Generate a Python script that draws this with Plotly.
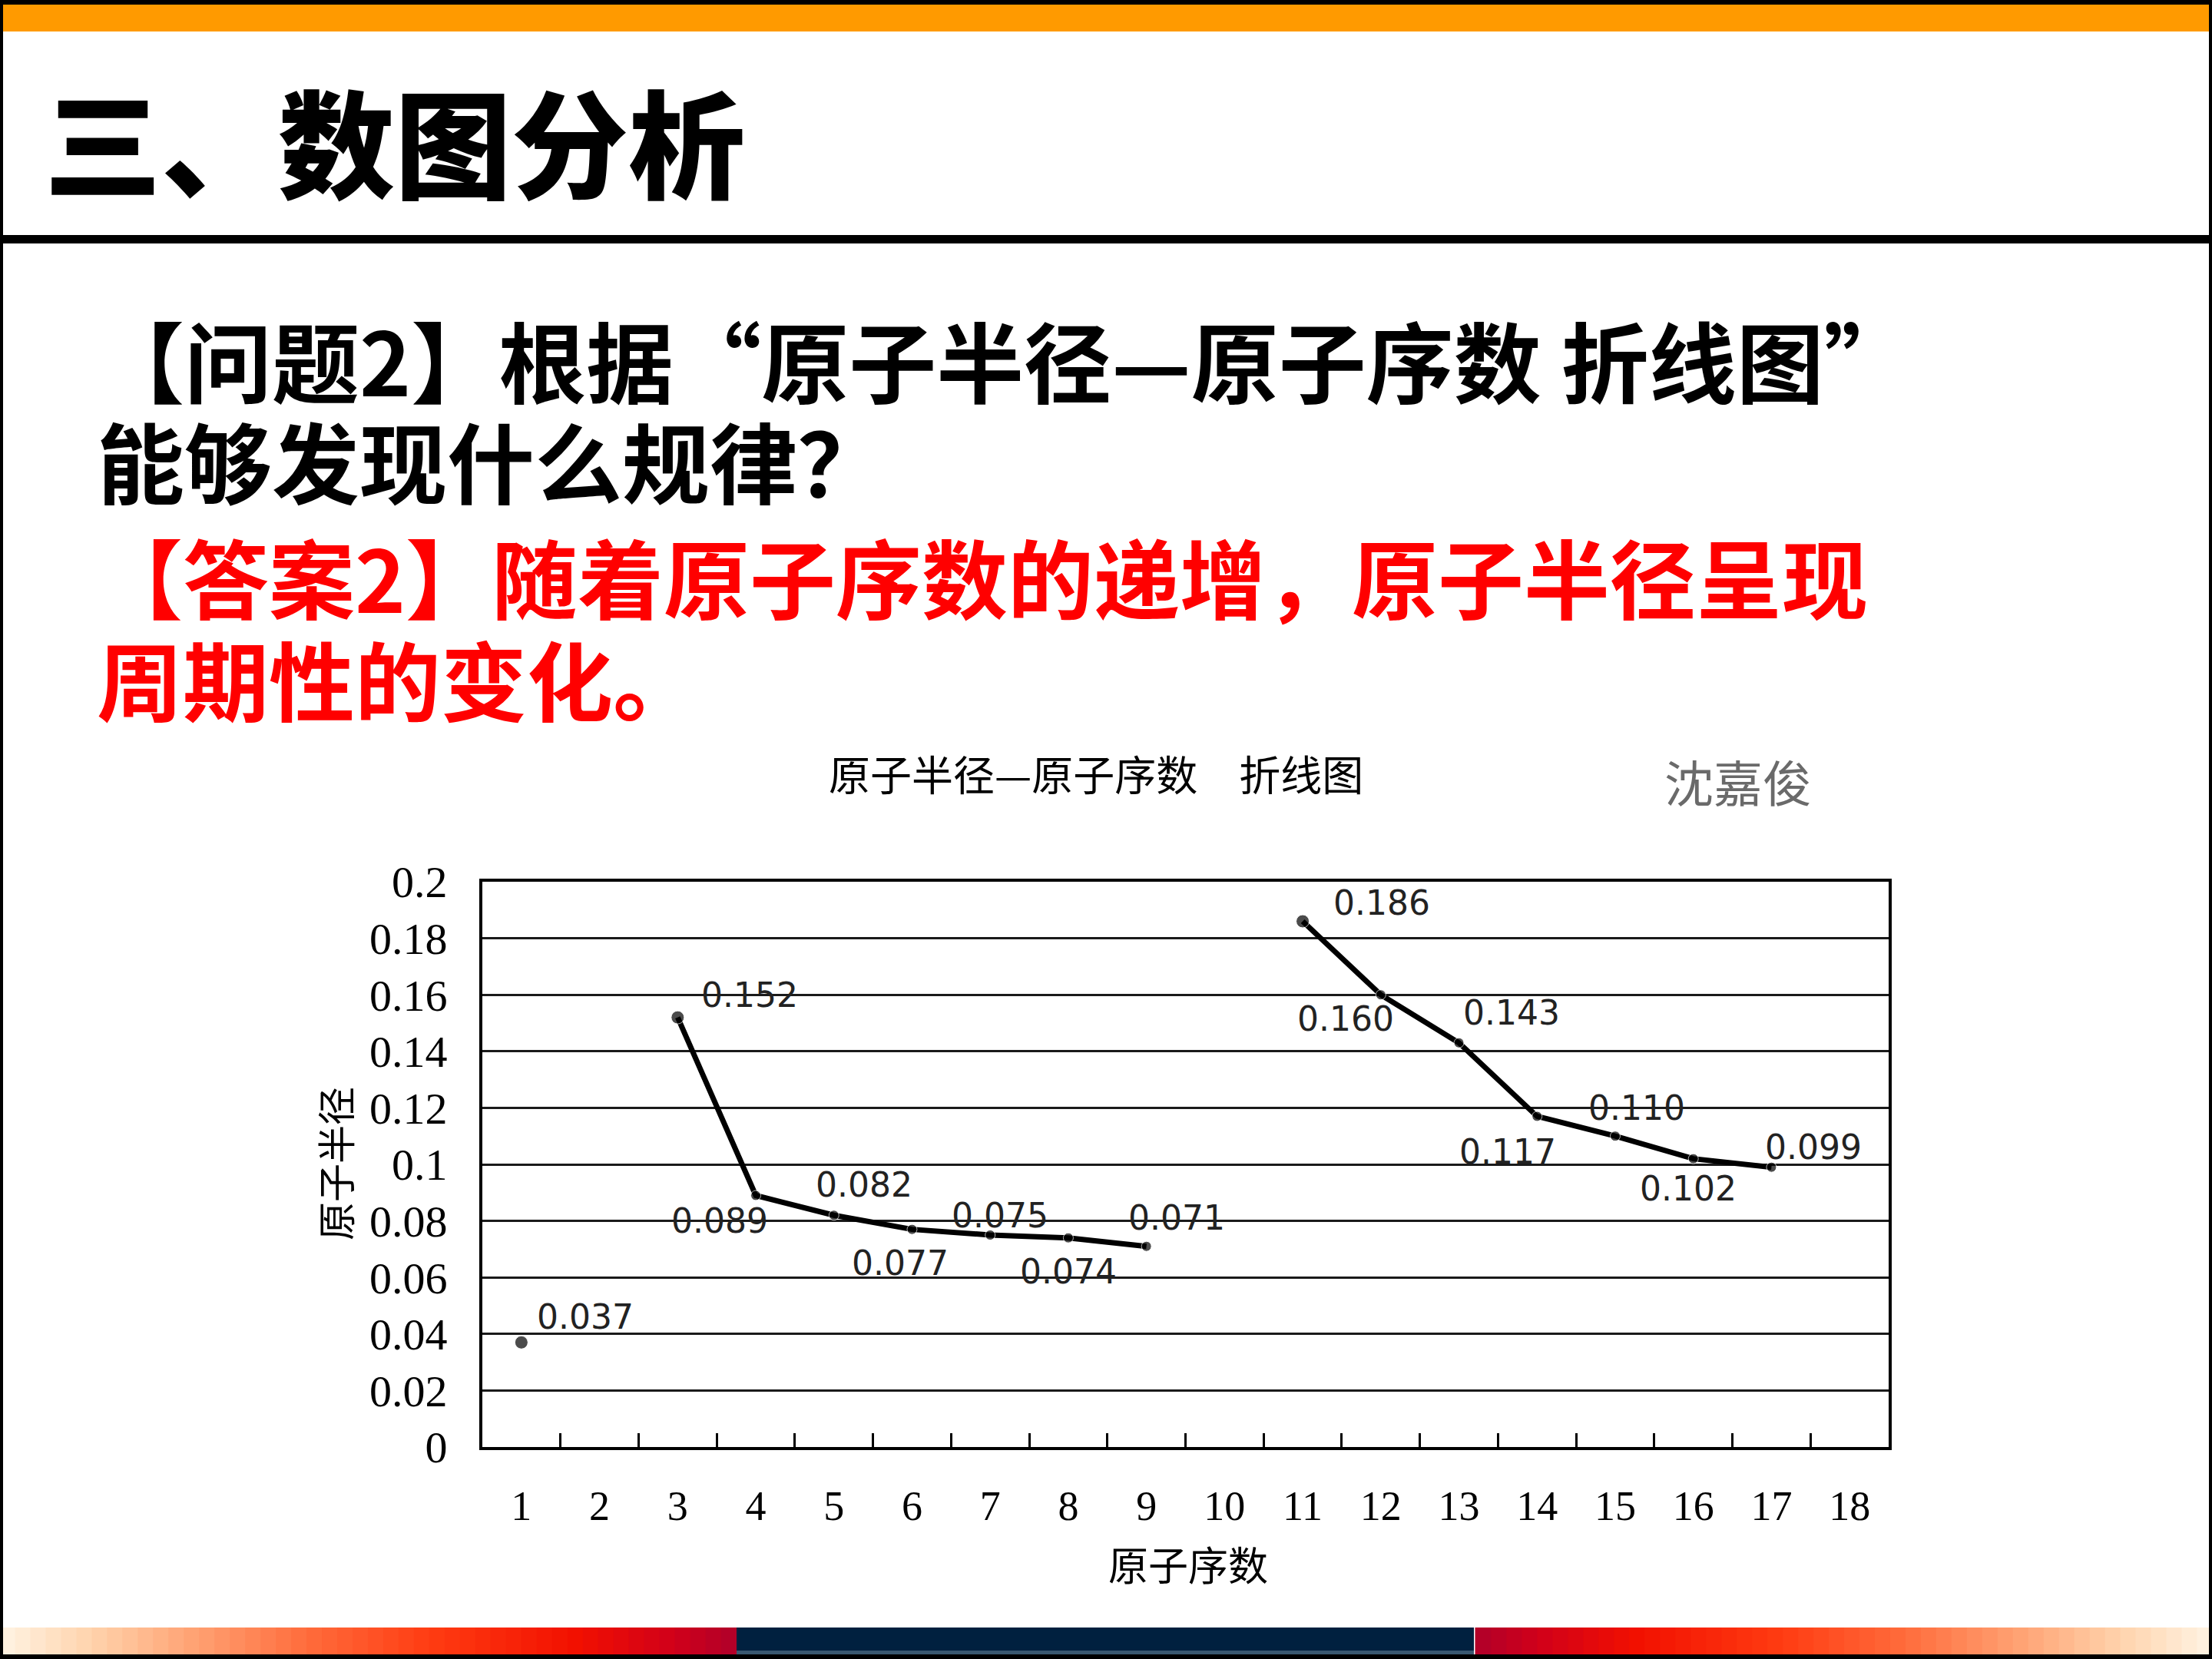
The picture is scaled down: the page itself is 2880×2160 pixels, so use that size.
import plotly.graph_objects as go

# ---------------- data ----------------
atomic_numbers = list(range(1, 19))
radius_values = [0.037, None, 0.152, 0.089, 0.082, 0.077, 0.075, 0.074, 0.071, None,
                 0.186, 0.160, 0.143, 0.117, 0.110, 0.102, 0.099, None]
radius_labels = ["0.037", "", "0.152", "0.089", "0.082", "0.077", "0.075", "0.074", "0.071", "",
                 "0.186", "0.160", "0.143", "0.117", "0.110", "0.102", "0.099", ""]
y_tick_values = [0, 0.02, 0.04, 0.06, 0.08, 0.1, 0.12, 0.14, 0.16, 0.18, 0.2]
y_tick_labels = ["0", "0.02", "0.04", "0.06", "0.08", "0.1", "0.12", "0.14", "0.16", "0.18", "0.2"]
x_tick_labels = [str(n) for n in atomic_numbers]

slide_title = "三、数图分析"
question_lines = ["【问题2】根据“原子半径—原子序数 折线图”", "能够发现什么规律？"]
answer_lines = ["【答案2】随着原子序数的递增，原子半径呈现", "周期性的变化。"]
chart_title = "原子半径—原子序数　折线图"
author_name = "沈嘉俊"
y_title = "原子半径"
x_title = "原子序数"

# ---------------- style / layout ----------------
W, H = 2880, 2160
PL, PR, PT, PB = 628, 2459, 1148, 1884

# label offsets (pixels) relative to each point: (xshift, yshift)
label_offsets = {1: (83, 33), 3: (94, 29), 4: (-47, -33), 5: (39, 40), 6: (-15, -44),
                 7: (13, 26), 8: (0, -44), 9: (39, 37), 11: (103, 24), 12: (-46, -31),
                 13: (68, 39), 14: (-38, -46), 15: (28, 37), 16: (-7, -39), 17: (55, 26)}


def fx(px):
    return px / W


def fy(py):
    return 1 - py / H


CJK = "Noto Sans CJK SC"

# marker size: segment starts drawn slightly bigger
sizes = []
for i, v in enumerate(radius_values):
    prev = radius_values[i - 1] if i > 0 else None
    sizes.append(17 if (v is not None and prev is None) else 13)

fig = go.Figure()
fig.add_trace(go.Scatter(
    x=atomic_numbers, y=radius_values, mode="lines+markers",
    line=dict(color="black", width=7), connectgaps=False,
    marker=dict(color="black", size=sizes),
    hoverinfo="skip", showlegend=False,
))

annotations = []
for n, v, lab in zip(atomic_numbers, radius_values, radius_labels):
    if v is None:
        continue
    dx, dy = label_offsets.get(n, (0, 30))
    annotations.append(dict(
        x=n, y=v, xref="x", yref="y", text=lab, showarrow=False,
        xshift=dx, yshift=dy, xanchor="center", yanchor="middle",
        font=dict(family="DejaVu Sans", size=44, color="#222222"),
    ))

# slide texts
annotations.append(dict(x=fx(56), y=fy(181), xref="paper", yref="paper", text=slide_title,
                        showarrow=False, xanchor="left", yanchor="middle",
                        font=dict(family=CJK, size=152, color="black", weight=900)))
for i, line in enumerate(question_lines):
    annotations.append(dict(x=fx(124), y=fy(466 + 131 * i), xref="paper", yref="paper", text=line,
                            showarrow=False, xanchor="left", yanchor="middle",
                            font=dict(family=CJK, size=114, color="black", weight=700)))
for i, line in enumerate(answer_lines):
    annotations.append(dict(x=fx(124), y=fy(749 + 133 * i), xref="paper", yref="paper", text=line,
                            showarrow=False, xanchor="left", yanchor="middle",
                            font=dict(family=CJK, size=112, color="#FF0000", weight=700)))
annotations.append(dict(x=fx(1427), y=fy(1007), xref="paper", yref="paper", text=chart_title,
                        showarrow=False, xanchor="center", yanchor="middle",
                        font=dict(family=CJK, size=54, color="black")))
annotations.append(dict(x=fx(2263), y=fy(1016), xref="paper", yref="paper", text=author_name,
                        showarrow=False, xanchor="center", yanchor="middle",
                        font=dict(family=CJK, size=64, color="#6a6a6a")))
annotations.append(dict(x=fx(435), y=fy(1515), xref="paper", yref="paper", text=y_title,
                        showarrow=False, xanchor="center", yanchor="middle", textangle=-90,
                        font=dict(family=CJK, size=50, color="black")))
annotations.append(dict(x=fx(1547), y=fy(2036), xref="paper", yref="paper", text=x_title,
                        showarrow=False, xanchor="center", yanchor="middle",
                        font=dict(family=CJK, size=52, color="black")))

shapes = []


def rect(x0, y0, x1, y1, color):
    shapes.append(dict(type="rect", xref="paper", yref="paper",
                       x0=fx(x0), x1=fx(x1), y0=fy(y1), y1=fy(y0),
                       fillcolor=color, line=dict(width=0), layer="above"))


def hex2rgb(h):
    h = h.lstrip("#")
    return tuple(int(h[i:i + 2], 16) for i in (0, 2, 4))


def interp(stops, t):
    for (p0, c0), (p1, c1) in zip(stops, stops[1:]):
        if p0 <= t <= p1:
            f = (t - p0) / (p1 - p0) if p1 > p0 else 0
            a, b = hex2rgb(c0), hex2rgb(c1)
            return "rgb(%d,%d,%d)" % tuple(round(a[k] + (b[k] - a[k]) * f) for k in range(3))
    return stops[-1][1]


# top frame + orange bar
rect(0, 0, W, 6, "black")
rect(0, 6, W, 41, "#FF9A00")
# separator line
rect(0, 306, W, 317, "black")

# bottom gradient bar
grad_stops = [(0, "#FFF4E4"), (120, "#FFD3AC"), (250, "#FFA374"), (400, "#FF6C3C"),
              (560, "#FF3C12"), (750, "#F21000"), (880, "#D0001A"), (959, "#B0002A")]
BY0, BY1 = 2119, 2154
N = 48
for k in range(N):
    a = 959 * k / N
    b = 959 * (k + 1) / N
    col = interp(grad_stops, (a + b) / 2)
    rect(a - 0.5, BY0, b + 0.5, BY1, col)
    rect(W - b - 0.5, BY0, W - a + 0.5, BY1, col)
rect(959, BY0, 1919, BY1, "#00203F")
rect(959, BY1 - 5, 1919, BY1, "#3A5870")
rect(0, BY1, W, H, "black")
# side frame
rect(0, 0, 4, H, "black")
rect(W - 4, 0, W, H, "black")

fig.update_layout(
    template="none",
    width=W, height=H,
    margin=dict(l=0, r=0, t=0, b=0, pad=0, autoexpand=False),
    paper_bgcolor="white", plot_bgcolor="rgba(0,0,0,0)",
    showlegend=False,
    annotations=annotations, shapes=shapes,
    xaxis=dict(
        domain=[PL / W, PR / W], range=[0.5, 18.5], automargin=False,
        tickvals=atomic_numbers, ticktext=x_tick_labels, ticks="",
        tickfont=dict(family="Liberation Serif", size=54, color="black"),
        ticklabelstandoff=26,
        showgrid=False, zeroline=False,
        showline=True, linecolor="black", linewidth=4, mirror=True,
        minor=dict(tickvals=[n + 0.5 for n in atomic_numbers[:-1]], ticks="inside",
                   ticklen=18, tickwidth=3, tickcolor="black", showgrid=False),
        fixedrange=True,
    ),
    yaxis=dict(
        domain=[1 - PB / H, 1 - PT / H], range=[0, 0.2], automargin=False,
        tickvals=y_tick_values, ticktext=y_tick_labels, ticks="",
        tickfont=dict(family="Liberation Serif", size=58, color="black"),
        ticklabelstandoff=30,
        showgrid=True, gridcolor="#1a1a1a", gridwidth=3, zeroline=False,
        showline=True, linecolor="black", linewidth=4, mirror=True,
        fixedrange=True,
    ),
)

fig.write_html("out.html")
